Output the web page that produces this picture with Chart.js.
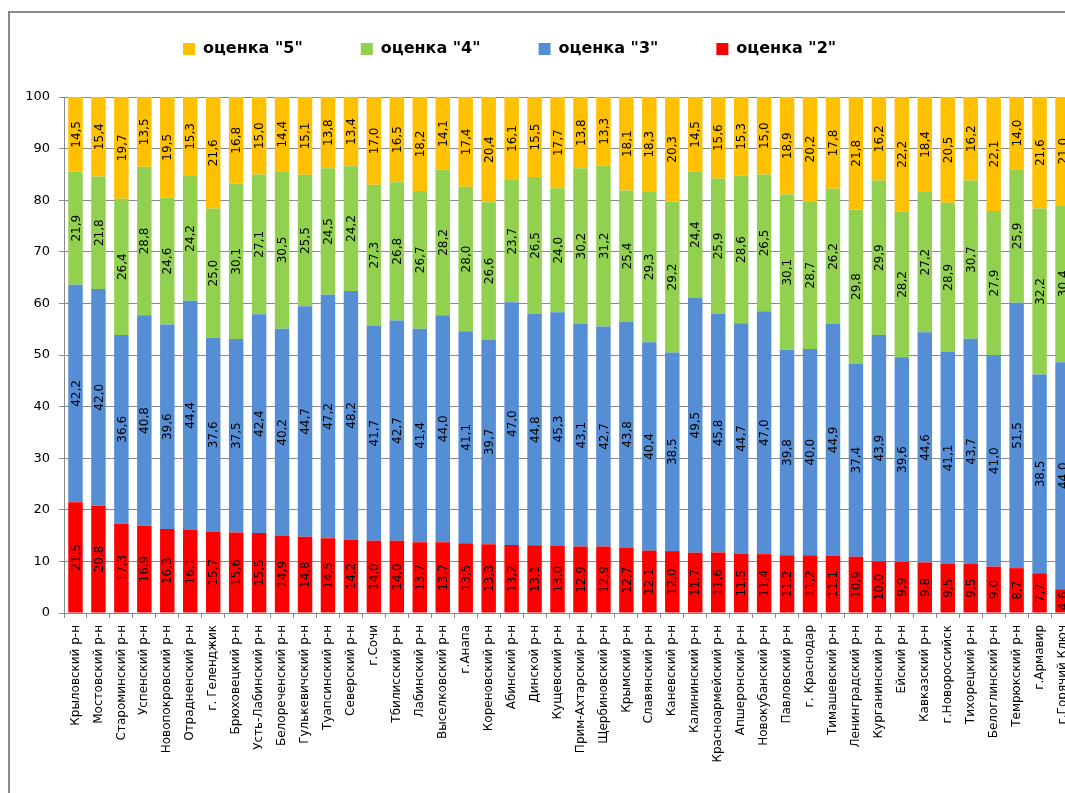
<!DOCTYPE html>
<html>
<head>
<meta charset="utf-8">
<script src="https://cdn.jsdelivr.net/npm/chart.js@4.4.1/dist/chart.umd.min.js"></script>
<style>
html, body { margin: 0; padding: 0; background: #fff; overflow: hidden; }
#frame { position: absolute; left: 8px; top: 11px; width: 1200px; height: 900px;
  border-left: 2px solid #8a8a8a; border-top: 2px solid #8a8a8a; }
#wrap { position: absolute; left: 0; top: 0; width: 1075px; height: 793px; }
</style>
</head>
<body>
<div id="frame"></div>
<div id="wrap"><canvas id="chart"></canvas></div>
<script>
const districts = ['Крыловский р-н','Мостовский р-н','Староминский р-н','Успенский р-н','Новопокровский р-н',
  'Отрадненский р-н','г. Геленджик','Брюховецкий р-н','Усть-Лабинский р-н','Белореченский р-н',
  'Гулькевичский р-н','Туапсинский р-н','Северский р-н','г.Сочи','Тбилисский р-н','Лабинский р-н',
  'Выселковский р-н','г.Анапа','Кореновский р-н','Абинский р-н','Динской р-н','Кущевский р-н',
  'Прим-Ахтарский р-н','Щербиновский р-н','Крымский р-н','Славянский р-н','Каневский р-н',
  'Калининский р-н','Красноармейский р-н','Апшеронский р-н','Новокубанский р-н','Павловский р-н',
  'г. Краснодар','Тимашевский р-н','Ленинградский р-н','Курганинский р-н','Ейский р-н',
  'Кавказский р-н','г.Новороссийск','Тихорецкий р-н','Белоглинский р-н','Темрюкский р-н',
  'г.Армавир','г.Горячий Ключ'];

// доли оценок, %
const grade2 = [21.5,20.8,17.3,16.9,16.3,16.1,15.7,15.6,15.5,14.9,14.8,14.5,14.2,14.0,14.0,13.7,13.7,13.5,13.3,13.2,
  13.1,13.0,12.9,12.9,12.7,12.1,12.0,11.7,11.6,11.5,11.4,11.2,11.2,11.1,10.9,10.0,9.9,9.8,9.5,9.5,9.0,8.7,7.7,4.6];
const grade3 = [42.2,42.0,36.6,40.8,39.6,44.4,37.6,37.5,42.4,40.2,44.7,47.2,48.2,41.7,42.7,41.4,44.0,41.1,39.7,47.0,
  44.8,45.3,43.1,42.7,43.8,40.4,38.5,49.5,45.8,44.7,47.0,39.8,40.0,44.9,37.4,43.9,39.6,44.6,41.1,43.7,41.0,51.5,38.5,44.0];
const grade4 = [21.9,21.8,26.4,28.8,24.6,24.2,25.0,30.1,27.1,30.5,25.5,24.5,24.2,27.3,26.8,26.7,28.2,28.0,26.6,23.7,
  26.5,24.0,30.2,31.2,25.4,29.3,29.2,24.4,25.9,28.6,26.5,30.1,28.7,26.2,29.8,29.9,28.2,27.2,28.9,30.7,27.9,25.9,32.2,30.4];
const grade5 = [14.5,15.4,19.7,13.5,19.5,15.3,21.6,16.8,15.0,14.4,15.1,13.8,13.4,17.0,16.5,18.2,14.1,17.4,20.4,16.1,
  15.5,17.7,13.8,13.3,18.1,18.3,20.3,14.5,15.6,15.3,15.0,18.9,20.2,17.8,21.8,16.2,22.2,18.4,20.5,16.2,22.1,14.0,21.6,21.0];

const yTicks = [0,10,20,30,40,50,60,70,80,90,100];

// the original is a 100% stacked chart: bars are normalised, labels show the raw numbers
const totals = districts.map((d, i) => grade2[i] + grade3[i] + grade4[i] + grade5[i]);
const share = arr => arr.map((v, i) => v * 100 / totals[i]);

// legend: own height + shift so it sits where the original one is
const legendPlace = {
  id: 'legendPlace',
  beforeInit(chart) {
    const lg = chart.legend;
    const fit = lg.fit;
    lg.fit = function () { fit.call(this); this.height = 97; };
    const draw = lg.draw;
    lg.draw = function () {
      const ctx = this.ctx;
      const first = this.legendHitBoxes[0];
      const dx = first ? 183 - first.left : 0;
      const dy = first ? 41 - first.top : 0;
      ctx.save();
      ctx.translate(dx, dy);
      draw.call(this);
      ctx.restore();
    };
  }
};

// vertical value labels in the middle of each segment
const barValues = {
  id: 'barValues',
  afterDatasetsDraw(chart) {
    const ctx = chart.ctx;
    ctx.save();
    ctx.font = '12px "DejaVu Sans"';
    ctx.fillStyle = '#000';
    ctx.textAlign = 'center';
    ctx.textBaseline = 'middle';
    chart.data.datasets.forEach((ds, i) => {
      chart.getDatasetMeta(i).data.forEach((bar, j) => {
        const y = (bar.y + bar.base) / 2;
        ctx.save();
        ctx.translate(bar.x, y);
        ctx.rotate(-Math.PI / 2);
        ctx.fillText(ds.raw[j].toFixed(1).replace('.', ','), 0, 1);
        ctx.restore();
      });
    });
    ctx.restore();
  }
};

const ctx = document.getElementById('chart').getContext('2d');
new Chart(ctx, {
  type: 'bar',
  data: {
    labels: districts,
    datasets: [
      { label: 'оценка "2"', data: share(grade2), raw: grade2, backgroundColor: '#FF0000' },
      { label: 'оценка "3"', data: share(grade3), raw: grade3, backgroundColor: '#558ED5' },
      { label: 'оценка "4"', data: share(grade4), raw: grade4, backgroundColor: '#92D050' },
      { label: 'оценка "5"', data: share(grade5), raw: grade5, backgroundColor: '#FFC000' }
    ]
  },
  options: {
    responsive: true,
    maintainAspectRatio: false,
    animation: false,
    layout: { padding: { left: 0, right: 1, top: 0, bottom: 0 } },
    datasets: { bar: { barPercentage: 0.63, categoryPercentage: 1 } },
    plugins: {
      tooltip: { enabled: false },
      legend: {
        position: 'top',
        reverse: true,
        labels: {
          boxWidth: 12,
          boxHeight: 12,
          padding: 58,
          color: '#000',
          font: { family: 'DejaVu Sans', size: 16, weight: 'bold' }
        }
      }
    },
    scales: {
      x: {
        stacked: true,
        afterFit(scale) { scale.height = 180; scale.paddingLeft = 0; scale.paddingRight = 0; },
        grid: { display: true, drawOnChartArea: false, offset: true, tickLength: 5, color: '#8a8a8a' },
        border: { color: '#8a8a8a' },
        ticks: {
          autoSkip: false, minRotation: 90, maxRotation: 90, padding: 7,
          color: '#000', font: { family: 'DejaVu Sans', size: 12 }
        }
      },
      y: {
        stacked: true,
        min: 0, max: 100,
        afterFit(scale) { scale.width = 64; },
        afterBuildTicks(scale) { scale.ticks = yTicks.map(v => ({ value: v })); },
        grid: { color: '#8a8a8a', tickLength: 5 },
        border: { color: '#8a8a8a' },
        ticks: { padding: 9, color: '#000', font: { family: 'DejaVu Sans', size: 13 } }
      }
    }
  },
  plugins: [legendPlace, barValues]
});
</script>
</body>
</html>
